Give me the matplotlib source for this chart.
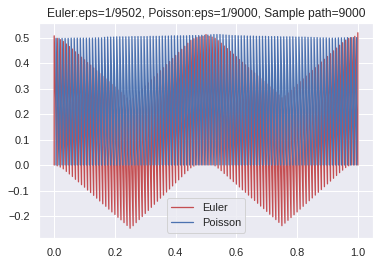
#!/usr/bin/env python3

# two fast oscillating sample paths, Euler vs Poisson
import matplotlib
matplotlib.use('Agg')
import matplotlib.pyplot as plt
import numpy as np
import seaborn as sns

# spike times (one spike every 0.01)
euler_t = np.linspace(0, 1, 101)
poisson_t = np.linspace(0.006, 0.996, 100)

# euler: bottom and top of every spike
euler_low = [
    0.000, -0.003, -0.008, -0.015, -0.025, -0.035, -0.045, -0.056, -0.066, -0.077,
    -0.087, -0.098, -0.108, -0.119, -0.130, -0.141, -0.152, -0.162, -0.173, -0.184,
    -0.194, -0.205, -0.215, -0.226, -0.237, -0.248, -0.238, -0.226, -0.214, -0.202,
    -0.190, -0.178, -0.166, -0.154, -0.142, -0.130, -0.118, -0.106, -0.094, -0.082,
    -0.070, -0.058, -0.046, -0.034, -0.022, -0.011, -0.004, 0.000, 0.000, 0.000,
    0.000, 0.000, 0.000, -0.003, -0.012, -0.022, -0.033, -0.043, -0.054, -0.065,
    -0.075, -0.086, -0.097, -0.107, -0.118, -0.129, -0.139, -0.150, -0.161, -0.171,
    -0.182, -0.193, -0.203, -0.214, -0.225, -0.238, -0.228, -0.217, -0.206, -0.195,
    -0.184, -0.173, -0.162, -0.151, -0.140, -0.129, -0.118, -0.107, -0.096, -0.085,
    -0.074, -0.063, -0.052, -0.041, -0.030, -0.020, -0.010, -0.003, 0.000, 0.000,
    0.000]
euler_high = [
    0.507, 0.497, 0.492, 0.485, 0.475, 0.465, 0.455, 0.444, 0.434, 0.423,
    0.413, 0.402, 0.392, 0.381, 0.370, 0.359, 0.348, 0.338, 0.327, 0.316,
    0.306, 0.295, 0.285, 0.274, 0.263, 0.254, 0.262, 0.274, 0.286, 0.298,
    0.310, 0.322, 0.334, 0.346, 0.358, 0.370, 0.382, 0.394, 0.406, 0.418,
    0.430, 0.442, 0.454, 0.466, 0.478, 0.489, 0.496, 0.500, 0.503, 0.505,
    0.512, 0.505, 0.502, 0.497, 0.488, 0.478, 0.467, 0.457, 0.446, 0.435,
    0.425, 0.414, 0.403, 0.393, 0.382, 0.371, 0.361, 0.350, 0.339, 0.329,
    0.318, 0.307, 0.297, 0.286, 0.275, 0.264, 0.272, 0.283, 0.294, 0.305,
    0.316, 0.327, 0.338, 0.349, 0.360, 0.371, 0.382, 0.393, 0.404, 0.415,
    0.426, 0.437, 0.448, 0.459, 0.470, 0.480, 0.490, 0.497, 0.500, 0.505,
    0.519]

# poisson: bottom and top of every spike
poisson_low = [0.0] * 100
poisson_high = [
    0.497, 0.497, 0.497, 0.497, 0.497, 0.498, 0.498, 0.498, 0.498, 0.498,
    0.498, 0.498, 0.498, 0.499, 0.499, 0.499, 0.501, 0.502, 0.502, 0.502,
    0.503, 0.503, 0.503, 0.503, 0.503, 0.504, 0.504, 0.504, 0.504, 0.504,
    0.504, 0.505, 0.505, 0.505, 0.505, 0.506, 0.506, 0.506, 0.507, 0.507,
    0.507, 0.507, 0.507, 0.507, 0.508, 0.508, 0.508, 0.508, 0.509, 0.509,
    0.510, 0.511, 0.512, 0.512, 0.512, 0.511, 0.510, 0.509, 0.508, 0.508,
    0.507, 0.507, 0.507, 0.506, 0.506, 0.506, 0.505, 0.505, 0.505, 0.505,
    0.504, 0.504, 0.504, 0.504, 0.503, 0.503, 0.503, 0.503, 0.503, 0.502,
    0.502, 0.502, 0.502, 0.501, 0.501, 0.500, 0.500, 0.499, 0.499, 0.499,
    0.498, 0.498, 0.498, 0.499, 0.499, 0.499, 0.500, 0.500, 0.500, 0.500]


def spikes(t, low, high):
    # each spike jumps straight up, then slides down to the next bottom
    x = np.repeat(t, 2)
    y = np.column_stack([low, high]).ravel()
    return x, y


def main():
    sns.set_theme()
    plt.rcParams['font.family'] = ['Liberation Sans', 'DejaVu Sans']

    dpi = 72
    fig = plt.figure(figsize=(380 / dpi, 265 / dpi), dpi=dpi)
    ax = fig.add_axes([39 / 380, 1 - 238 / 265, 334 / 380, 215 / 265])

    ex, ey = spikes(euler_t, euler_low, euler_high)
    px, py = spikes(poisson_t, poisson_low, poisson_high)

    ax.plot(ex, ey, color='r', lw=1.3, label='Euler')
    ax.plot(px, py, color='b', lw=1.3, label='Poisson')

    ax.set_title('Euler:eps=1/9502, Poisson:eps=1/9000, Sample path=9000')
    ax.legend(loc='lower center')

    fig.savefig('out.png', dpi=dpi)


if __name__ == '__main__':
    main()
